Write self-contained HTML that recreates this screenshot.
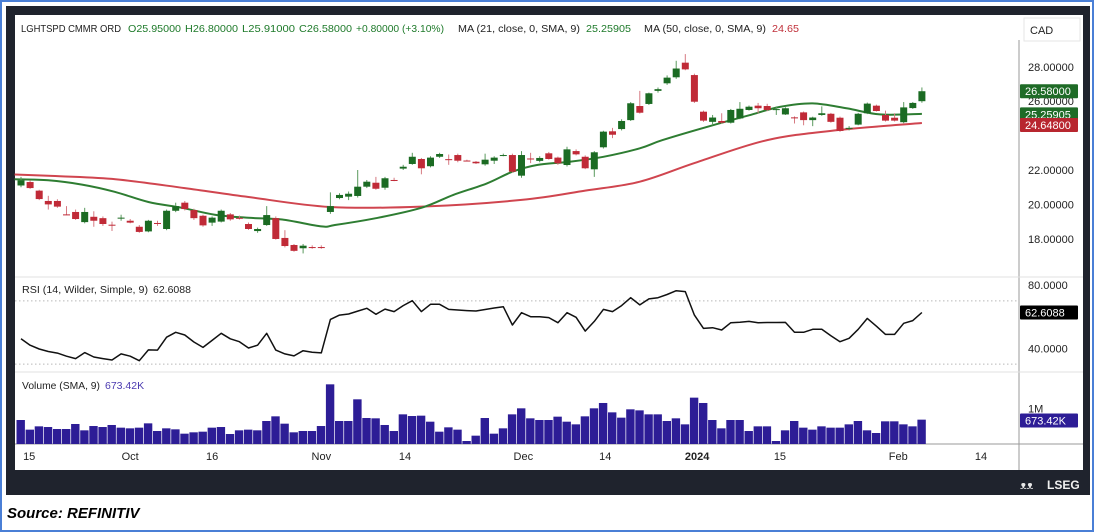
<!DOCTYPE html>
<html><head><meta charset="utf-8"><style>
html,body{margin:0;padding:0;background:#fff;}
svg{display:block;font-family:"Liberation Sans",sans-serif;}
</style></head><body>
<svg id="chart" width="1094" height="532" viewBox="0 0 1094 532" xmlns="http://www.w3.org/2000/svg">
<rect x="1" y="1" width="1092" height="530" fill="#fff" stroke="#4a7fd6" stroke-width="2"/>
<rect x="6" y="6" width="1084" height="489" fill="#1f232d"/>
<rect x="15" y="15" width="1068" height="455" fill="#fff"/>
<line x1="1019" y1="40" x2="1019" y2="470" stroke="#9a9a9a" stroke-width="1"/>
<line x1="15" y1="277" x2="1083" y2="277" stroke="#e0e0e0"/>
<line x1="15" y1="372" x2="1083" y2="372" stroke="#e0e0e0"/>
<line x1="15" y1="444" x2="1083" y2="444" stroke="#9a9a9a"/>
<g id="price"></g>
<g id="rsi"></g>
<g id="vol"></g>
<g id="xaxis"></g>
<g id="yaxis"></g>

<g font-size="10.5">
<text x="21" y="32" fill="#222" textLength="100" lengthAdjust="spacingAndGlyphs">LGHTSPD CMMR ORD</text>
<text x="128" y="32" fill="#1e7a2a" textLength="53" lengthAdjust="spacingAndGlyphs">O25.95000</text>
<text x="185" y="32" fill="#1e7a2a" textLength="53" lengthAdjust="spacingAndGlyphs">H26.80000</text>
<text x="242" y="32" fill="#1e7a2a" textLength="53" lengthAdjust="spacingAndGlyphs">L25.91000</text>
<text x="299" y="32" fill="#1e7a2a" textLength="53" lengthAdjust="spacingAndGlyphs">C26.58000</text>
<text x="356" y="32" fill="#1e7a2a" textLength="88" lengthAdjust="spacingAndGlyphs">+0.80000 (+3.10%)</text>
<text x="458" y="32" fill="#222" textLength="122" lengthAdjust="spacingAndGlyphs">MA (21, close, 0, SMA, 9)</text>
<text x="586" y="32" fill="#1e7a2a" textLength="45" lengthAdjust="spacingAndGlyphs">25.25905</text>
<text x="644" y="32" fill="#222" textLength="122" lengthAdjust="spacingAndGlyphs">MA (50, close, 0, SMA, 9)</text>
<text x="772" y="32" fill="#c0303a" textLength="27" lengthAdjust="spacingAndGlyphs">24.65</text>
</g>
<rect x="1024" y="18" width="56" height="23" fill="#fff" stroke="#e6e6e6"/>
<text x="1030" y="34" font-size="11" fill="#222">CAD</text>

<text x="22" y="293" font-size="10.5" fill="#222" textLength="126" lengthAdjust="spacingAndGlyphs">RSI (14, Wilder, Simple, 9)</text>
<text x="153" y="293" font-size="10.5" fill="#222">62.6088</text>
<text x="22" y="389" font-size="10.5" fill="#222" textLength="78" lengthAdjust="spacingAndGlyphs">Volume (SMA, 9)</text>
<text x="105" y="389" font-size="10.5" fill="#4b3ab0">673.42K</text>

<g>
<text x="1020" y="489" font-size="11" fill="#e8e8e8">ᴥᴥ</text>
<text x="1047" y="489" font-size="12" font-weight="bold" fill="#f0f0f0">LSEG</text>
</g>
<text x="7" y="518" font-size="15" font-weight="bold" font-style="italic" fill="#000">Source: REFINITIV</text>
</svg>
<script>
const opens=[21.1,21.3,20.8,20.2,20.2,19.42,19.56,18.97,19.28,19.2,18.82,19.22,19.05,18.7,18.43,18.92,18.57,19.63,20.1,19.67,19.34,18.94,19.0,19.42,19.22,18.86,18.45,18.8,19.2,18.05,17.64,17.45,17.52,17.52,19.56,20.37,20.45,20.49,21.03,21.26,20.97,21.42,22.08,22.35,22.64,22.22,22.77,22.63,22.87,22.55,22.48,22.33,22.54,22.86,22.87,21.67,22.67,22.53,22.97,22.72,22.29,23.1,22.77,22.04,23.32,24.25,24.38,24.9,25.72,25.84,26.6,27.04,27.39,28.24,27.52,25.39,24.8,24.85,24.75,25.0,25.49,25.74,25.72,25.53,25.23,25.06,25.35,24.9,25.2,25.27,25.04,24.44,24.64,25.3,25.74,25.2,25.04,24.78,25.6,26.0];
const closes=[21.4,20.95,20.31,20.0,19.87,19.4,19.15,19.56,19.05,18.86,18.8,19.23,18.94,18.4,19.05,18.9,19.63,19.9,19.73,19.2,18.78,19.23,19.63,19.13,19.2,18.57,18.57,19.38,17.99,17.58,17.3,17.6,17.5,17.5,19.9,20.55,20.62,21.03,21.32,20.91,21.52,21.4,22.19,22.77,22.1,22.72,22.93,22.62,22.54,22.54,22.39,22.6,22.72,22.87,21.9,22.87,22.66,22.7,22.64,22.39,23.2,22.91,22.1,23.03,24.23,24.05,24.85,25.88,25.33,26.46,26.7,27.37,27.9,27.85,25.97,24.87,25.05,24.75,25.49,25.56,25.68,25.59,25.49,25.54,25.59,25.05,24.9,25.05,25.3,24.8,24.27,24.45,25.27,25.86,25.43,24.87,24.87,25.64,25.9,26.58];
const highs=[21.6,21.4,20.85,20.5,20.3,19.9,19.7,19.8,19.6,19.3,19.0,19.4,19.15,18.8,19.1,19.05,19.7,20.1,20.2,19.75,19.4,19.3,19.7,19.5,19.35,18.95,18.65,19.9,19.3,18.5,17.7,17.7,17.62,17.62,20.7,20.65,20.75,22.0,21.42,21.6,21.6,21.55,22.3,23.0,22.7,22.8,23.0,22.9,22.95,22.6,22.52,22.95,22.8,22.95,22.95,23.1,23.0,22.8,23.05,22.78,23.35,23.2,22.85,23.1,24.28,24.45,24.95,25.95,26.6,26.5,26.8,27.5,28.35,28.74,27.6,25.45,25.2,25.3,25.55,25.95,25.75,25.9,25.85,25.7,25.65,25.12,25.4,25.1,25.7,25.32,25.1,24.55,25.32,25.92,25.8,25.45,25.3,25.95,25.95,26.8];
const lows=[21.0,20.9,20.25,19.7,19.8,19.38,19.1,18.9,18.7,18.75,18.45,19.05,18.9,18.35,18.38,18.75,18.5,19.55,19.65,19.1,18.7,18.75,18.95,19.05,19.12,18.52,18.35,18.75,17.95,17.5,17.25,17.15,17.42,17.42,19.45,20.3,20.25,20.4,20.95,20.85,20.85,21.35,22.0,22.3,21.75,22.15,22.7,22.3,22.45,22.5,22.35,22.25,22.35,22.8,21.85,21.55,22.4,22.45,22.6,22.3,22.2,22.85,22.05,21.6,23.25,23.85,24.3,24.85,25.28,25.78,26.5,26.95,27.3,27.8,25.9,24.8,24.6,24.7,24.7,24.95,25.45,25.3,25.42,25.2,25.2,24.7,24.6,24.55,25.15,24.75,24.22,24.3,24.6,25.25,25.4,24.82,24.82,24.72,25.55,25.91];
const ma21Idx=[-0.7,3,6.7,10.3,14,17.7,21.3,25,28.7,33,34.5,39,44,47.5,51.2,54,56.7,60.3,64,68,70.5,76,80,83.4,87,90.8,94.4,99];
const ma21Val=[21.46,21.4,21.15,20.73,20.14,19.8,19.4,19.22,19.12,18.72,18.8,19.2,19.8,20.55,21.22,21.9,22.29,22.48,22.77,23.26,23.74,24.6,25.18,25.67,25.87,25.58,25.23,25.26];
const ma50Idx=[-0.7,3,10,18,25,34,44,55,62,68,74,82,90,99];
const ma50Val=[21.74,21.66,21.48,20.95,20.43,19.85,19.87,20.26,20.8,21.32,22.4,23.74,24.33,24.73];
const rsiVals=[46,42,39.6,38,37,35,33.5,37.3,34.5,33.5,32.6,36.5,35,32.2,39,38.9,47,50.1,48.4,44,40.6,45,49.5,46,44.2,40.2,42,49.5,38.9,36.5,35.2,38.5,37.5,37.1,58.3,61,61.7,63.5,65.3,61.5,64.8,63.2,67,70.1,63.2,67.8,67.8,64.6,64.2,63.8,63.6,64.5,65.5,66.3,54.7,62.5,60,60,59.4,56.2,62.5,59.6,50.9,57,64.6,63.2,67,72,67.4,71.2,72,74,76.4,75.8,61,52.6,53,51.6,56.2,56.5,57,56.2,56.3,56.3,56.4,50.1,50.1,52,52,48,44.2,46.3,52,58.9,54,48.8,48.8,55.8,57.5,62.6];
const volK=[674,403,496,477,421,421,562,384,505,477,534,459,440,459,580,365,440,412,290,328,346,459,477,281,384,403,384,646,777,571,328,365,365,505,1676,646,646,1255,730,721,534,365,833,786,796,627,346,468,403,84,234,730,290,440,833,1002,721,674,674,768,627,552,777,1002,1152,889,740,974,945,833,833,646,721,552,1302,1152,674,440,674,674,365,496,496,84,384,646,459,403,496,459,459,552,646,384,309,637,637,552,496,684];
const priceTicks=[28,26,22,20,18];
const priceTickLabels=["28.00000","26.00000","22.00000","20.00000","18.00000"];
const rsiTicks=[80,40];
const rsiTickLabels=["80.0000","40.0000"];
const dateIdx=[0.9,12,21,33,42.2,55.2,64.2,74.3,83.4,96.4,105.5];
const dateLabels=["15","Oct","16","Nov","14","Dec","14","2024","15","Feb","14"];

const NS="http://www.w3.org/2000/svg";
function mk(tag,attrs,parent){const e=document.createElementNS(NS,tag);for(const k in attrs)e.setAttribute(k,attrs[k]);parent.appendChild(e);return e;}
const X=i=>21+i*9.1;
const PY=p=>170-(p-22)*17.2;
const RY=r=>285+(80-r)*1.583;
const VY=v=>444-v/1000*35.6;
const G="#1b6b23",R="#c02a37";
const price=document.getElementById('price'),rsi=document.getElementById('rsi'),vol=document.getElementById('vol'),xaxis=document.getElementById('xaxis'),yaxis=document.getElementById('yaxis');

function linePath(idx,vals,fy){return idx.map((i,k)=>(k?'L':'M')+X(i).toFixed(1)+','+fy(vals[k]).toFixed(1)).join(' ');}
function smoothPath(idx,vals,fy){
  const pts=idx.map((i,k)=>[X(i),fy(vals[k])]);
  let d='M'+pts[0][0].toFixed(1)+','+pts[0][1].toFixed(1);
  for(let k=0;k<pts.length-1;k++){
    const p0=pts[Math.max(0,k-1)],p1=pts[k],p2=pts[k+1],p3=pts[Math.min(pts.length-1,k+2)];
    const c1=[p1[0]+(p2[0]-p0[0])/6,p1[1]+(p2[1]-p0[1])/6],c2=[p2[0]-(p3[0]-p1[0])/6,p2[1]-(p3[1]-p1[1])/6];
    d+=' C'+c1[0].toFixed(1)+','+c1[1].toFixed(1)+' '+c2[0].toFixed(1)+','+c2[1].toFixed(1)+' '+p2[0].toFixed(1)+','+p2[1].toFixed(1);
  }
  return d;
}
let p=mk('path',{d:smoothPath(ma50Idx,ma50Val,PY),fill:'none',stroke:'#d0454f','stroke-width':2,'stroke-linejoin':'round'},price);


p=mk('path',{d:smoothPath(ma21Idx,ma21Val,PY),fill:'none',stroke:'#2e7d32','stroke-width':2,'stroke-linejoin':'round'},price);



for(let i=0;i<closes.length;i++){
  const up=closes[i]>=opens[i];const c=up?G:R;const x=X(i);
  const w=mk('line',{x1:x,x2:x,y1:PY(highs[i]),y2:PY(lows[i]),stroke:up?'#5a9a5e':'#d67a82','stroke-width':1},price);
  
  
  const t=PY(Math.max(opens[i],closes[i])),b=PY(Math.min(opens[i],closes[i]));
  const r=mk('rect',{x:x-3.5,y:t,width:7,height:Math.max(1,b-t),fill:c},price);
  
  
}
for(const lv of [70,30]){const l=mk('line',{x1:15,x2:1019,y1:RY(lv),y2:RY(lv),stroke:'#b8b8b8','stroke-dasharray':'1.5,2.5'},rsi);

}
p=mk('path',{d:linePath(rsiVals.map((v,i)=>i),rsiVals,RY),fill:'none',stroke:'#111','stroke-width':1.5,'stroke-linejoin':'round'},rsi);


for(let i=0;i<volK.length;i++){const y=VY(volK[i]);const r=mk('rect',{x:X(i)-4.5,y:y,width:8.4,height:444-y,fill:'#2d1d96'},vol);

}
priceTicks.forEach((v,k)=>{const t=mk('text',{x:1028,y:PY(v)+4,'font-size':11,fill:'#222'},yaxis);t.textContent=priceTickLabels[k];

});
rsiTicks.forEach((v,k)=>{const t=mk('text',{x:1028,y:RY(v)+4,'font-size':11,fill:'#222'},yaxis);t.textContent=rsiTickLabels[k];

});
let t=mk('text',{x:1028,y:VY(1000)+4,'font-size':11,fill:'#222'},yaxis);t.textContent='1M';


function badge(y,fill,txt,name){const g=mk('g',{},yaxis);
mk('rect',{x:1020,y:y-7,width:58,height:14,fill:fill,rx:1},g);const tt=mk('text',{x:1025,y:y+4,'font-size':11,fill:'#fff'},g);tt.textContent=txt;}
badge(PY(closes[closes.length-1]),'#1f6b27',closes[closes.length-1].toFixed(5),'last-price-badge');
badge(PY(ma21Val[ma21Val.length-1])+0.5,'#1f6b27','25.25905','ma21-badge');
badge(PY(24.648)+0.5,'#b8262f','24.64800','ma50-badge');
badge(RY(rsiVals[rsiVals.length-1]),'#000','62.6088','rsi-badge');
badge(VY(673.42)+0.5,'#2d1d96','673.42K','volume-badge');
dateIdx.forEach((v,k)=>{const tx=mk('text',{x:X(v),y:460,'font-size':11,fill:'#222','text-anchor':'middle','font-weight':dateLabels[k]==='2024'?'bold':'normal'},xaxis);tx.textContent=dateLabels[k];

});
</script>
</body></html>
